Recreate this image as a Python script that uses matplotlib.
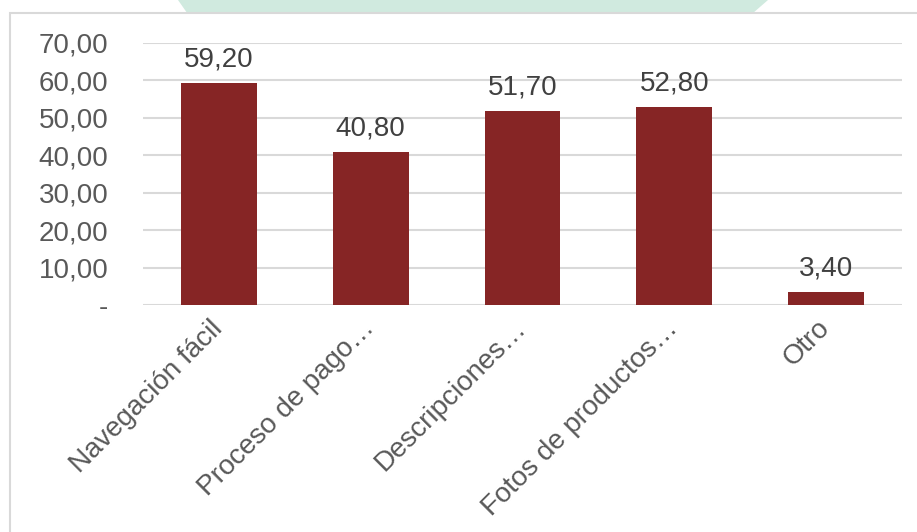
import matplotlib
matplotlib.use("Agg")
import matplotlib.pyplot as plt
from matplotlib.patches import Rectangle, Polygon

categories = ["Navegación fácil", "Proceso de pago…", "Descripciones…",
              "Fotos de productos…", "Otro"]
values = [59.20, 40.80, 51.70, 52.80, 3.40]
yticks = [0, 10, 20, 30, 40, 50, 60, 70]

plt.rcParams["font.family"] = ["Liberation Sans", "DejaVu Sans"]

fig = plt.figure(figsize=(9.17, 5.32), dpi=100)

# green decoration behind the chart box
blob = Polygon([(178 / 917, 1.0), (768 / 917, 1.0), (745 / 917, 1 - 20 / 532),
                (192 / 917, 1 - 20 / 532)], closed=True, transform=fig.transFigure,
               facecolor="#d0eadf", edgecolor="none", zorder=0)
fig.patches.append(blob)
# chart frame
frame = Rectangle((10 / 917, -0.1), 1.0, 1 - 13 / 532 + 0.1, transform=fig.transFigure,
                  facecolor="white", edgecolor="#d9d9d9", linewidth=1.5, zorder=1)
fig.patches.append(frame)

ax = fig.add_axes([143 / 917, 1 - 305 / 532, 759 / 917, 262 / 532])
ax.set_zorder(2)
ax.patch.set_alpha(0)

x = list(range(len(categories)))
bars = ax.bar(x, values, width=0.5, color="#862525", zorder=3)

for b, v in zip(bars, values):
    ax.annotate(f"{v:.2f}".replace(".", ","), (b.get_x() + b.get_width() / 2, v),
                xytext=(0, 8), textcoords="offset points", ha="center", va="bottom",
                fontsize=20, color="#404040")

ax.set_xlim(-0.5, len(categories) - 0.5)
ax.set_ylim(0, 70)
ax.set_yticks(yticks)
ax.set_yticklabels(["-" if t == 0 else f"{t:.2f}".replace(".", ",") for t in yticks],
                   fontsize=20, color="#595959")
ax.set_xticks(x)
ax.set_xticklabels(categories, rotation=45, ha="right", va="center",
                   rotation_mode="anchor", fontsize=20, color="#595959")
ax.tick_params(length=0)
ax.tick_params(axis="y", pad=25)
ax.tick_params(axis="x", pad=14)
ax.grid(axis="y", color="#d9d9d9", linewidth=1.5, zorder=0)
for s in ax.spines.values():
    s.set_visible(False)

fig.savefig("out.png", dpi=100)
